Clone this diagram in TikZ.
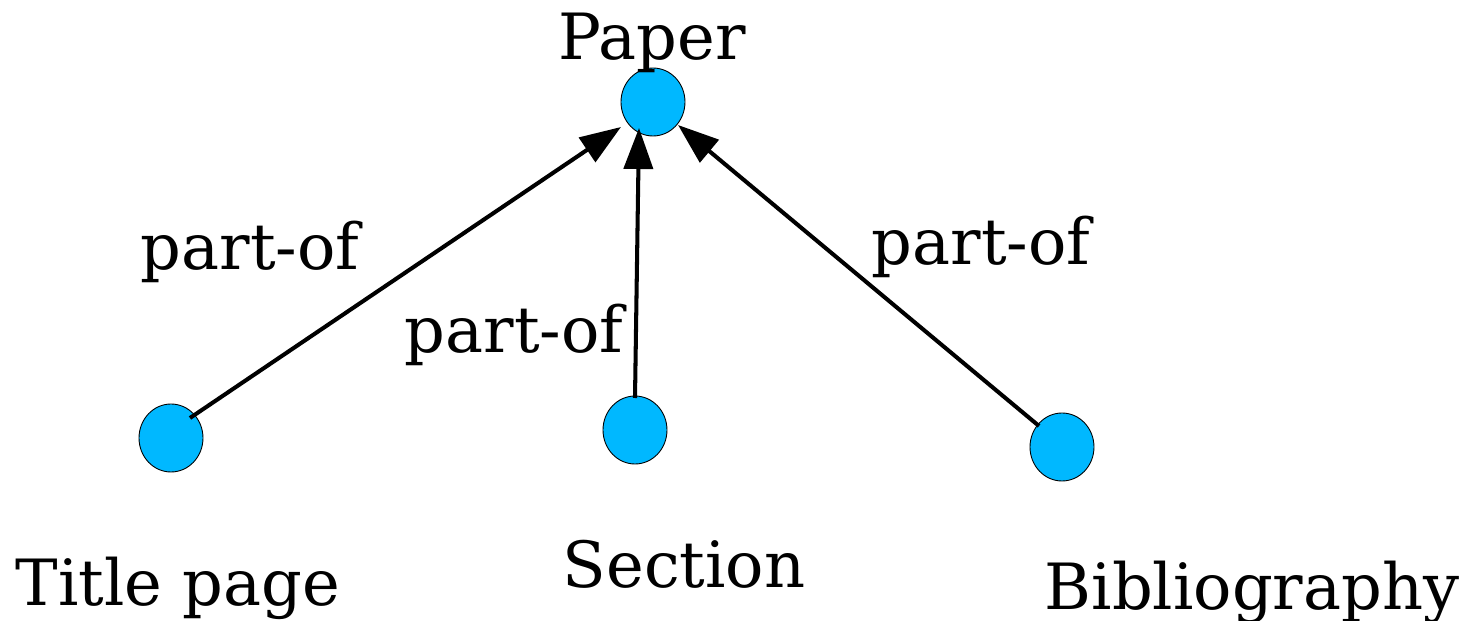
\documentclass[tikz,border=0pt]{standalone}
\usepackage{fontspec}
\setmainfont{DejaVu Serif}
\usetikzlibrary{arrows.meta}
\definecolor{dotblue}{HTML}{00B8FF}
\tikzset{
  dot/.style={ellipse, draw=black, line width=0.5pt, fill=dotblue, minimum width=1.28cm, minimum height=1.36cm, inner sep=0pt},
  lbl/.style={anchor=base, inner sep=0pt, font=\fontsize{36.3}{42}\selectfont},
  partof/.style={line width=2.3pt, -{Triangle[length=0.82cm,width=0.58cm]}}
}
\usetikzlibrary{shapes.geometric}
\begin{document}
\begin{tikzpicture}[x=0.02cm,y=-0.02cm]
\useasboundingbox (0,0) rectangle (1465,621);
\node[dot] (paper) at (653,102) {};
\node[dot] (title) at (171,438) {};
\node[dot] (section) at (635,430) {};
\node[dot] (bib) at (1062,447) {};
\node[lbl] (lpaper) at (652,60) {Paper};
\node[lbl] (ltitle) at (178,605) {Title page};
\node[lbl] (lsection) at (684,588) {Section};
\node[lbl] (lbib) at (1252,610) {Bibliography};
\node[lbl] (p1) at (250,270) {part-of};
\node[lbl] (p2) at (514,353) {part-of};
\node[lbl] (p3) at (981,265) {part-of};
\coordinate (tA) at (190,418);
\coordinate (sA) at (635,398);
\coordinate (bA) at (1039,426);
\coordinate (tB) at (621,127);
\coordinate (sB) at (639,128);
\coordinate (bB) at (678,125);
\draw[partof] (tA) -- (tB);
\draw[partof] (sA) -- (sB);
\draw[partof] (bA) -- (bB);
\end{tikzpicture}
\end{document}
